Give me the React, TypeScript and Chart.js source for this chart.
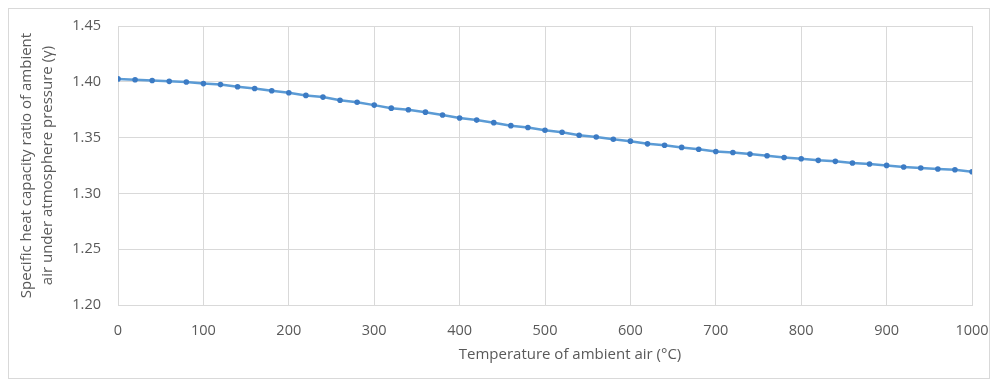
import React, { useEffect, useRef } from "react";
import { Chart, registerables } from "chart.js";

Chart.register(...registerables);

const temperatures: number[] = [
  0, 20, 40, 60, 80, 100, 120, 140, 160, 180, 200, 220, 240, 260, 280, 300, 320, 340, 360, 380, 400,
  420, 440, 460, 480, 500, 520, 540, 560, 580, 600, 620, 640, 660, 680, 700, 720, 740, 760, 780, 800,
  820, 840, 860, 880, 900, 920, 940, 960, 980, 1000,
];

const gammaValues: number[] = [
  1.4026, 1.4018, 1.4012, 1.4004, 1.3998, 1.3984, 1.3975, 1.3955, 1.394, 1.392, 1.3902, 1.3878,
  1.3863, 1.3835, 1.3817, 1.3791, 1.3764, 1.375, 1.3728, 1.3702, 1.3675, 1.3657, 1.3634, 1.3607,
  1.359, 1.3566, 1.3548, 1.3521, 1.3506, 1.3485, 1.3468, 1.3444, 1.3432, 1.3412, 1.3396, 1.3376,
  1.3367, 1.3352, 1.3337, 1.3322, 1.331, 1.3296, 1.3287, 1.3272, 1.3263, 1.3251, 1.3236, 1.3227,
  1.3218, 1.3212, 1.3194,
];

const xTitle = "Temperature of ambient air (°C)";
const yTitle = ["Specific heat capacity ratio of ambient", "air under atmosphere pressure (γ)"];

const FONT = "'Open Sans', Lato, sans-serif";

const xTitlePlugin = {
  id: "xTitlePlugin",
  afterDraw(chart: any) {
    const { ctx, chartArea } = chart;
    ctx.save();
    ctx.font = `15px ${FONT}`;
    ctx.fillStyle = "#595959";
    ctx.textAlign = "center";
    ctx.textBaseline = "middle";
    ctx.fillText(xTitle, (chartArea.left + chartArea.right) / 2 + 25, chart.height - 23);
    ctx.restore();
  },
};

export default function App() {
  const canvasRef = useRef<HTMLCanvasElement | null>(null);

  useEffect(() => {
    if (!canvasRef.current) return;
    const chart = new Chart(canvasRef.current, {
      type: "line",
      data: {
        datasets: [
          {
            data: temperatures.map((t, i) => ({ x: t, y: gammaValues[i] })),
            borderColor: "#5b9bd5",
            backgroundColor: "#4a86c8",
            borderWidth: 2.5,
            pointRadius: 2.8,
            pointBorderWidth: 0,
            pointBackgroundColor: "#3c7bc4",
            tension: 0,
            fill: false,
          },
        ],
      },
      plugins: [xTitlePlugin],
      options: {
        animation: false,
        responsive: false,
        maintainAspectRatio: false,
        layout: { padding: { left: 0, right: 17, top: 17, bottom: 0 } },
        plugins: { legend: { display: false }, tooltip: { enabled: false } },
        scales: {
          x: {
            type: "linear",
            min: 0,
            max: 1000,
            ticks: {
              stepSize: 100,
              padding: 17,
              color: "#595959",
              font: { family: FONT, size: 14.5 },
              maxRotation: 0,
              callback: (v: any) => String(v),
            },
            grid: { color: "#d9d9d9", drawTicks: false, lineWidth: 1 },
            border: { color: "#d9d9d9" },
            title: { display: false, text: xTitle },
            afterFit: (scale: any) => {
              scale.height = 73;
              scale.paddingLeft = 0;
              scale.paddingRight = 0;
            },
          },
          y: {
            min: 1.2,
            max: 1.45,
            ticks: {
              stepSize: 0.05,
              padding: 17,
              color: "#595959",
              font: { family: FONT, size: 14.5 },
              callback: (v: any) => Number(v).toFixed(2),
            },
            grid: { color: "#d9d9d9", drawTicks: false, lineWidth: 1 },
            border: { color: "#d9d9d9" },
            title: {
              display: true,
              text: yTitle,
              color: "#595959",
              font: { family: FONT, size: 15, lineHeight: 1.4 },
              padding: { top: 7.5, bottom: 0 },
            },
            afterFit: (scale: any) => {
              scale.width = 109;
              scale.paddingTop = 0;
              scale.paddingBottom = 0;
            },
          },
        },
      },
    });
    return () => chart.destroy();
  }, []);

  return (
    <div
      style={{
        width: 982,
        height: 371,
        border: "1px solid #d9d9d9",
        boxSizing: "border-box",
        background: "#fff",
      }}
    >
      <canvas ref={canvasRef} width={980} height={369} style={{ display: "block", width: 980, height: 369 }} />
    </div>
  );
}
